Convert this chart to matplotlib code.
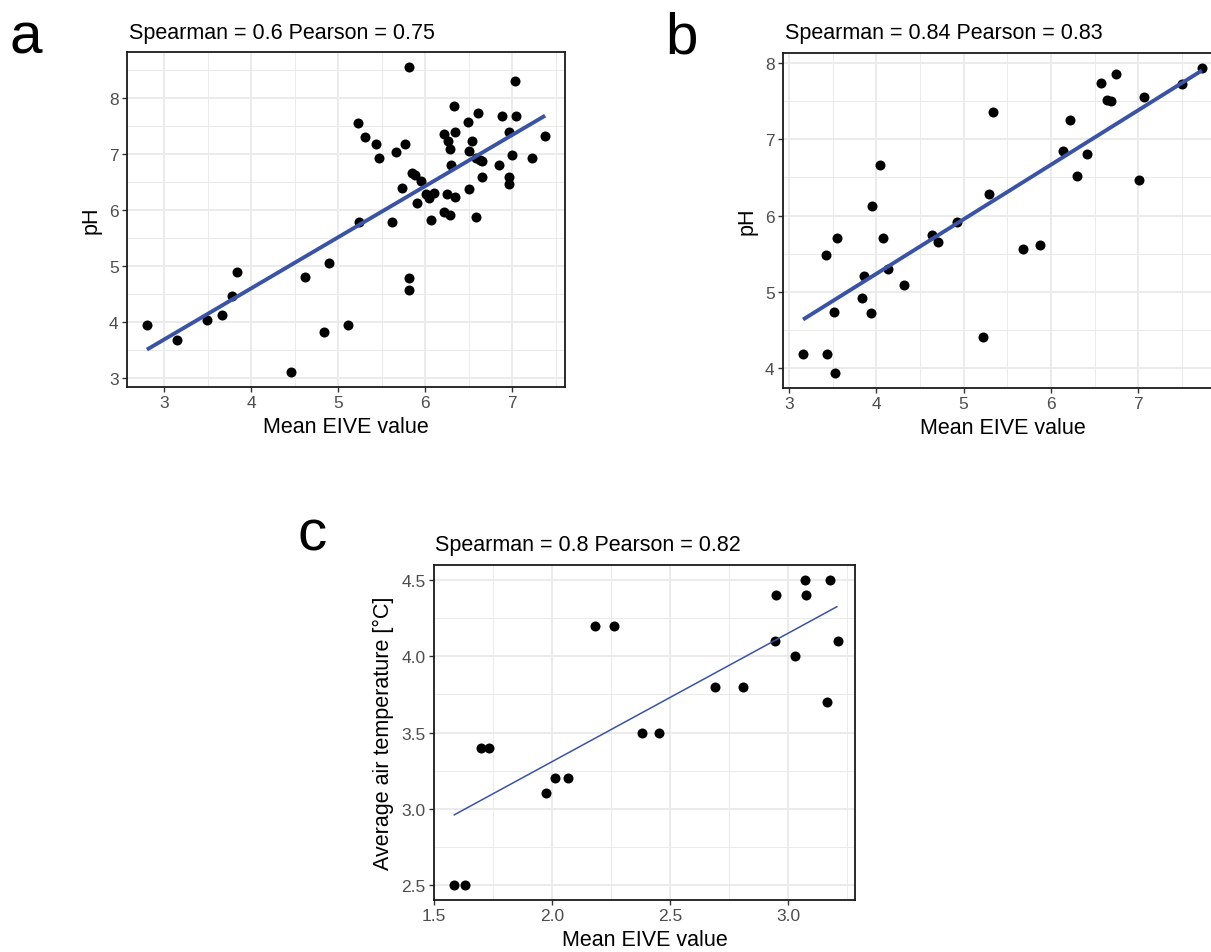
import numpy as np
import matplotlib
matplotlib.use("Agg")
import matplotlib.pyplot as plt
from matplotlib.ticker import MultipleLocator, FormatStrFormatter

plt.rcParams['font.family'] = ['Liberation Sans', 'DejaVu Sans']

# ---------------- data ----------------
a_x = [2.80, 3.146, 3.496, 3.665, 3.78, 3.835, 4.46, 4.615, 4.84, 4.90, 5.11, 5.23, 5.24, 5.31,
       5.44, 5.465, 5.62, 5.66, 5.73, 5.765, 5.81, 5.81, 5.82, 5.85, 5.88, 5.91, 5.95, 6.015,
       6.04, 6.10, 6.07, 6.215, 6.246, 6.215, 6.26, 6.29, 6.29, 6.30, 6.335, 6.34, 6.34, 6.49,
       6.50, 6.50, 6.535, 6.58, 6.61, 6.59, 6.63, 6.65, 6.66, 6.85, 6.89, 6.96, 6.96, 6.97,
       7.00, 7.03, 7.04, 7.23, 7.38]
a_y = [3.935, 3.67, 4.03, 4.12, 4.46, 4.89, 3.107, 4.80, 3.815, 5.05, 3.95, 7.55, 5.79, 7.31,
       7.18, 6.92, 5.78, 7.04, 6.39, 7.18, 4.79, 4.565, 8.55, 6.655, 6.63, 6.13, 6.51, 6.29,
       6.22, 6.30, 5.82, 7.36, 6.29, 5.96, 7.24, 7.08, 5.90, 6.81, 7.85, 7.39, 6.23, 7.57,
       7.05, 6.375, 7.24, 5.87, 7.74, 6.93, 6.90, 6.88, 6.58, 6.81, 7.68, 7.39, 6.58, 6.46,
       6.99, 8.30, 7.68, 6.93, 7.32]

b_x = [3.16, 3.43, 3.53, 3.42, 3.55, 3.52, 3.83, 3.86, 3.94, 3.95, 4.045, 4.08, 4.13, 4.32,
       4.64, 4.71, 4.925, 5.22, 5.29, 5.335, 5.675, 5.87, 6.135, 6.22, 6.30, 6.41, 6.57, 6.64,
       6.69, 6.74, 7.01, 7.065, 7.50, 7.73]
b_y = [4.19, 4.19, 3.94, 5.48, 5.71, 4.74, 4.92, 5.21, 4.72, 6.12, 6.66, 5.71, 5.30, 5.09,
       5.75, 5.65, 5.915, 4.41, 6.28, 7.36, 5.56, 5.62, 6.85, 7.25, 6.52, 6.81, 7.74, 7.51,
       7.50, 7.85, 6.47, 7.55, 7.73, 7.93]

c_x = [1.583, 1.631, 1.70, 1.732, 1.975, 2.013, 2.068, 2.181, 2.263, 2.383, 2.453, 2.692,
       2.807, 2.945, 2.949, 3.028, 3.071, 3.076, 3.164, 3.178, 3.209]
c_y = [2.5, 2.5, 3.4, 3.4, 3.1, 3.2, 3.2, 4.2, 4.2, 3.5, 3.5, 3.8, 3.8, 4.1, 4.4, 4.0, 4.5,
       4.4, 3.7, 4.5, 4.1]

titles = ["Spearman = 0.6 Pearson = 0.75", "Spearman = 0.84 Pearson = 0.83",
          "Spearman = 0.8 Pearson = 0.82"]
xlabel = "Mean EIVE value"
ylabels = ["pH", "pH", "Average air temperature [°C]"]
panel_letters = ["a", "b", "c"]

# ---------------- figure ----------------
W, H = 1211, 953
fig = plt.figure(figsize=(W / 100, H / 100), dpi=100)

def rect(l, r, t, b):
    return [l / W, 1 - b / H, (r - l) / W, (b - t) / H]

LINE_COL = '#3A53A4'
TICK_COL = '#4D4D4D'

def style(ax, xmaj, ymaj, xlim, ylim, fmt=None):
    ax.set_xlim(*xlim)
    ax.set_ylim(*ylim)
    ax.xaxis.set_major_locator(MultipleLocator(xmaj))
    ax.xaxis.set_minor_locator(MultipleLocator(xmaj / 2))
    ax.yaxis.set_major_locator(MultipleLocator(ymaj))
    ax.yaxis.set_minor_locator(MultipleLocator(ymaj / 2))
    if fmt:
        ax.xaxis.set_major_formatter(fmt)
        ax.yaxis.set_major_formatter(fmt)
    ax.grid(which='major', color='#EBEBEB', linewidth=1.4, zorder=0)
    ax.grid(which='minor', color='#EBEBEB', linewidth=0.7, zorder=0)
    ax.set_axisbelow(True)
    for s in ax.spines.values():
        s.set_color('#1A1A1A')
        s.set_linewidth(1.3)
    ax.tick_params(which='major', length=3.5, width=1.0, color='#333333',
                   labelsize=12.5, labelcolor=TICK_COL, pad=2.5)
    ax.tick_params(which='minor', length=0)

def panel(ax, xs, ys, lw):
    xs = np.asarray(xs); ys = np.asarray(ys)
    ax.scatter(xs, ys, s=52, color='black', zorder=3, linewidths=0)
    k, c = np.polyfit(xs, ys, 1)
    xx = np.array([xs.min(), xs.max()])
    ax.plot(xx, k * xx + c, color=LINE_COL, linewidth=lw, zorder=4, solid_capstyle='butt')

axa = fig.add_axes(rect(127, 565, 53, 388))
panel(axa, a_x, a_y, 2.8)
style(axa, 1, 1, (2.571, 7.609), (2.835, 8.822))

axb = fig.add_axes(rect(783, 1222, 54, 389))
panel(axb, b_x, b_y, 2.8)
style(axb, 1, 1, (2.93, 7.96), (3.74, 8.13))

axc = fig.add_axes(rect(434, 855, 566, 901))
panel(axc, c_x, c_y, 1.1)
style(axc, 0.5, 0.5, (1.5, 3.283), (2.4, 4.6), FormatStrFormatter('%.1f'))

for ax, t, yl in zip([axa, axb, axc], titles, ylabels):
    ax.set_xlabel(xlabel, fontsize=15.5, color='black', labelpad=4)
    ax.set_ylabel(yl, fontsize=15.5, color='black', labelpad=5)

# titles (left aligned with panel)
fig.text(129 / W, 1 - 39 / H, titles[0], fontsize=15.5, ha='left', va='baseline')
fig.text(785 / W, 1 - 39 / H, titles[1], fontsize=15.5, ha='left', va='baseline')
fig.text(435 / W, 1 - 551 / H, titles[2], fontsize=15.5, ha='left', va='baseline')

# panel letters
fig.text(10 / W, 1 - 54 / H, panel_letters[0], fontsize=42, ha='left', va='baseline')
fig.text(665 / W, 1 - 54 / H, panel_letters[1], fontsize=42, ha='left', va='baseline')
fig.text(298 / W, 1 - 551 / H, panel_letters[2], fontsize=42, ha='left', va='baseline')

fig.savefig('out.png', dpi=100)
